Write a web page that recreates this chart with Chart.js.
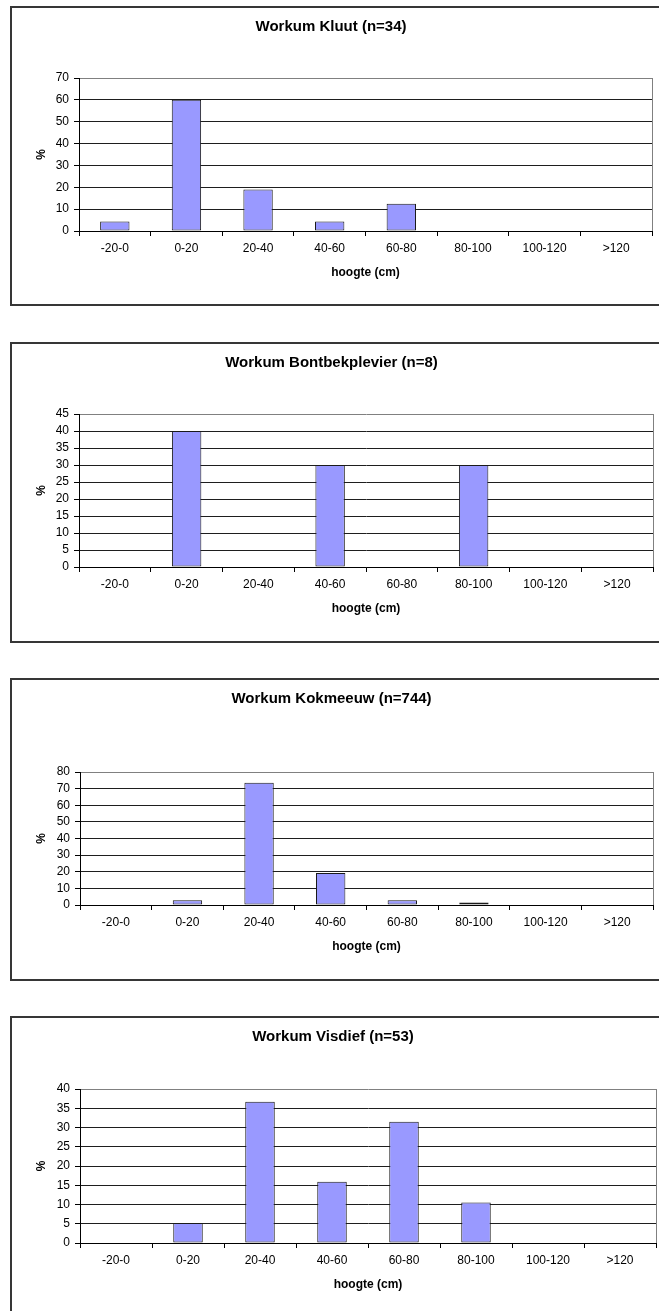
<!DOCTYPE html>
<html>
<head>
<meta charset="utf-8">
<script src="https://cdn.jsdelivr.net/npm/chart.js@4.4.1/dist/chart.umd.min.js"></script>
<style>
  html, body { margin: 0; padding: 0; background: #fff; overflow: hidden; }
  body { width: 659px; height: 1311px; position: relative; }
  .frame { position: absolute; left: 10px; width: 700px; border: 2px solid #363636;
           box-sizing: border-box; pointer-events: none; }
  canvas { position: absolute; left: 10px; }
</style>
</head>
<body>
<div class="frame" style="top:6px;height:300px"></div>
<div class="frame" style="top:342px;height:301px"></div>
<div class="frame" style="top:678px;height:303px"></div>
<div class="frame" style="top:1016px;height:320px"></div>
<canvas id="c1" width="660" height="298" style="top:7px"></canvas>
<canvas id="c2" width="662" height="299" style="top:343px"></canvas>
<canvas id="c3" width="662" height="301" style="top:679px"></canvas>
<canvas id="c4" width="665" height="300" style="top:1017px"></canvas>
<script>
// Height classes (cm) shared by all four panels
const categories = ['-20-0', '0-20', '20-40', '40-60', '60-80', '80-100', '100-120', '>120'];

// Share of nests per height class (%)
const kluut          = [4.3, 60, 19, 4.3, 12.5, 0, 0, 0];
const bontbekplevier = [0, 40, 0, 30, 0, 30, 0, 0];
const kokmeeuw       = [0, 2.8, 73.6, 19.2, 2.9, 1.5, 0, 0];
const visdief        = [0, 5.2, 36.7, 15.9, 31.5, 10.5, 0, 0];

// Panel titles and y-axis ranges
const titles = ['Workum Kluut (n=34)', 'Workum Bontbekplevier (n=8)', 'Workum Kokmeeuw (n=744)', 'Workum Visdief (n=53)'];
const yMax   = [70, 45, 80, 40];
const yStep  = [10, 5, 10, 5];

const xTitle = 'hoogte (cm)';
const yTitle = '%';

// Plot-area placement inside each canvas
const layouts = [
  { id: 'c1', left: 69, right: 642, top: 71, bottom: 224 },
  { id: 'c2', left: 69, right: 643, top: 71, bottom: 224 },
  { id: 'c3', left: 70, right: 643, top: 93, bottom: 226 },
  { id: 'c4', left: 70, right: 646, top: 72, bottom: 226 }
];

const seriesList = [kluut, bontbekplevier, kokmeeuw, visdief];
const FONT = '"Liberation Sans", Arial, Helvetica, sans-serif';

layouts.forEach((L, i) => {
  const canvas = document.getElementById(L.id);
  const W = canvas.width, H = canvas.height;
  const max = yMax[i];
  const titleSize = 15, titleLH = titleSize * 1.2;
  const axisSize = 12, axisLH = axisSize * 1.2;

  new Chart(canvas, {
    type: 'bar',
    data: {
      labels: categories,
      datasets: [{
        data: seriesList[i],
        backgroundColor: '#9999FF',
        borderColor: '#1a1a1a',
        borderWidth: 1,
        borderSkipped: false,
        barPercentage: 0.41,
        categoryPercentage: 1
      }]
    },
    options: {
      responsive: false,
      animation: false,
      devicePixelRatio: 1,
      layout: { padding: { left: 0, right: W - L.right, top: 0, bottom: 0 } },
      plugins: {
        legend: { display: false },
        tooltip: { enabled: false },
        title: {
          display: true,
          text: titles[i],
          color: '#000',
          font: { family: FONT, size: titleSize, weight: 'bold', lineHeight: 1.2 },
          padding: { top: 20 - titleLH / 2, bottom: L.top - 20 - titleLH / 2 }
        }
      },
      scales: {
        x: {
          type: 'category',
          offset: true,
          afterFit: s => { s.height = H - L.bottom; },
          border: { display: true, color: '#000', width: 1 },
          grid: {
            offset: true,
            drawOnChartArea: true,
            drawTicks: true,
            tickLength: 5,
            tickColor: '#000',
            lineWidth: 1,
            // only the closing right edge of the plot frame is visible
            color: c => (c.type === 'tick' ? 'rgba(0,0,0,0)' : '#808080')
          },
          ticks: {
            color: '#000',
            padding: 5,
            maxRotation: 0,
            autoSkip: false,
            font: { family: FONT, size: axisSize, lineHeight: 1.2 }
          },
          title: {
            display: true,
            text: xTitle,
            color: '#000',
            font: { family: FONT, size: axisSize, weight: 'bold', lineHeight: 1.2 },
            padding: { top: 0, bottom: (H - L.bottom) - 42 - axisLH / 2 }
          }
        },
        y: {
          min: 0,
          max: max,
          afterFit: s => { s.width = L.left; },
          border: { display: true, color: '#000', width: 1 },
          grid: {
            drawTicks: true,
            tickLength: 5,
            tickColor: '#000',
            lineWidth: 1,
            color: c => (c.tick && c.tick.value === max ? '#808080' : '#1e1e1e')
          },
          ticks: {
            stepSize: yStep[i],
            autoSkip: false,
            color: '#000',
            padding: 5,
            font: { family: FONT, size: axisSize, lineHeight: 1.2 }
          },
          title: {
            display: true,
            text: yTitle,
            color: '#000',
            font: { family: FONT, size: axisSize, weight: 'bold', lineHeight: 1.2 },
            padding: { top: 31.5 - axisLH / 2, bottom: 0 }
          }
        }
      }
    }
  });
});
</script>
</body>
</html>
